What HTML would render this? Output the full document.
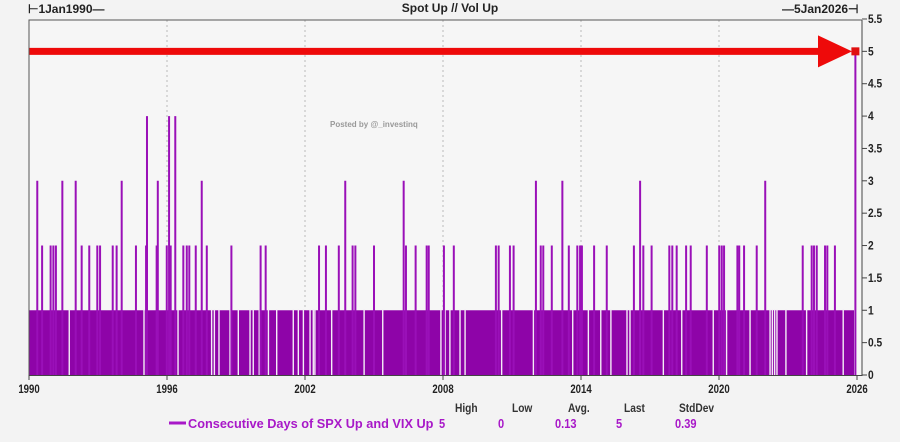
<!DOCTYPE html>
<html><head><meta charset="utf-8"><style>
html,body{margin:0;padding:0;background:#f3f3f3;}
svg{display:block;font-family:"Liberation Sans",sans-serif;}
</style></head><body>
<svg id="c" width="900" height="442" viewBox="0 0 900 442">
<rect x="0" y="0" width="900" height="442" fill="#f3f3f3"/>
<rect x="29" y="20" width="833" height="355" fill="#f6f6f6"/>
<g id="grid"></g>
<g id="marks"></g>
<text x="450" y="12" text-anchor="middle" font-size="12" font-weight="bold" fill="#222">Spot Up // Vol Up</text>
<text x="28" y="13" font-size="12" font-weight="bold" fill="#222">⊢1Jan1990—</text>
<text x="782" y="13" font-size="12" font-weight="bold" fill="#222">—5Jan2026⊣</text>
<text x="330" y="127" font-size="8" font-weight="bold" fill="#999">Posted by @_investinq</text>
<g id="axes"></g>
<g font-size="12" font-weight="bold">
<text x="455" y="412" fill="#333" transform="translate(455 412) scale(0.85 1) translate(-455 -412)">High</text>
<text x="512" y="412" fill="#333" transform="translate(512 412) scale(0.85 1) translate(-512 -412)">Low</text>
<text x="568" y="412" fill="#333" transform="translate(568 412) scale(0.85 1) translate(-568 -412)">Avg.</text>
<text x="624" y="412" fill="#333" transform="translate(624 412) scale(0.85 1) translate(-624 -412)">Last</text>
<text x="679" y="412" fill="#333" transform="translate(679 412) scale(0.85 1) translate(-679 -412)">StdDev</text>
<line x1="169" y1="423" x2="186" y2="423" stroke="#a818c8" stroke-width="3"/>
<text x="188" y="428" font-size="13" fill="#a818c8" transform="translate(188 428) scale(0.98 1) translate(-188 -428)">Consecutive Days of SPX Up and VIX Up</text>
<text x="439" y="428" font-size="13" fill="#a818c8" transform="translate(439 428) scale(0.85 1) translate(-439 -428)">5</text>
<text x="498" y="428" font-size="13" fill="#a818c8" transform="translate(498 428) scale(0.85 1) translate(-498 -428)">0</text>
<text x="555" y="428" font-size="13" fill="#a818c8" transform="translate(555 428) scale(0.85 1) translate(-555 -428)">0.13</text>
<text x="616" y="428" font-size="13" fill="#a818c8" transform="translate(616 428) scale(0.85 1) translate(-616 -428)">5</text>
<text x="675" y="428" font-size="13" fill="#a818c8" transform="translate(675 428) scale(0.85 1) translate(-675 -428)">0.39</text>
</g>
</svg>
<script>
const xTickLabels=["1990","1996","2002","2008","2014","2020","2026"];
const xTickYears=[1990,1996,2002,2008,2014,2020,2026];
const yTickLabels=["0","0.5","1","1.5","2","2.5","3","3.5","4","4.5","5","5.5"];
const yTickValues=[0,0.5,1,1.5,2,2.5,3,3.5,4,4.5,5,5.5];
const baseStart=1990.0, baseEnd=2025.87, baseValue=1;
const spikeYears=[1990.36,1991.45,1992.03,1994.03,1995.60,1997.51,1995.13,1996.09,1996.36,
1990.57,1990.94,1991.06,1991.17,1992.29,1992.62,1992.97,1993.09,1993.64,1993.81,1994.65,1995.09,1995.55,1995.99,1996.16,1996.71,1996.86,1996.97,1997.25,1997.73,1998.80,2000.07,2000.29,2002.61,
2003.75,2006.29,2012.04,2013.19,
2002.91,2003.47,2004.07,2004.19,2005.0,2006.39,2006.81,2007.29,2007.38,2008.04,2008.47,2010.30,2010.42,2010.91,2011.07,2012.25,2012.36,2012.73,2013.47,2013.84,2013.96,2014.04,2014.57,
2016.57,2022.01,
2015.12,2016.30,2016.71,2017.07,2017.84,2017.97,2018.16,2018.57,2018.77,2019.47,2020.01,2020.12,2020.22,2020.80,2020.88,2021.09,2021.64,2023.64,2024.03,2024.13,2024.25,2024.61,2024.71,2025.04,
2025.93];
const spikeValues=[3,3,3,3,3,3,4,4,4,
2,2,2,2,2,2,2,2,2,2,2,2,2,2,2,2,2,2,2,2,2,2,2,2,
3,3,3,3,
2,2,2,2,2,2,2,2,2,2,2,2,2,2,2,2,2,2,2,2,2,2,2,
3,3,
2,2,2,2,2,2,2,2,2,2,2,2,2,2,2,2,2,2,2,2,2,2,2,2,
5];
const gapYears=[1991.75,1995.0,1996.48,1997.94,1998.06,1998.26,1998.74,1999.10,1999.61,1999.75,2000.01,2000.41,2000.77,2001.49,2001.71,2002.22,2002.43,
2001.93,2002.36,2003.16,2004.57,2005.38,2007.91,2008.09,2008.30,2008.74,2008.96,2010.55,2011.93,2013.64,
2014.32,2014.86,2015.30,2016.0,2016.13,2017.58,2018.38,2019.75,2020.33,2021.35,2022.22,2022.32,2022.42,2022.52,2022.91,2023.81,2025.40];

const X0=29, PX_PER_YEAR=23, Y0=375, PX_PER_UNIT=64.73;
function xs(y){return X0+(y-1990)*PX_PER_YEAR;}
function ys(v){return Y0-v*PX_PER_UNIT;}
const NS="http://www.w3.org/2000/svg";
function mk(t,a,p){const e=document.createElementNS(NS,t);for(const k in a)e.setAttribute(k,a[k]);p.appendChild(e);return e;}
const grid=document.getElementById('grid'), marks=document.getElementById('marks'), axes=document.getElementById('axes');
for(let i=1;i<xTickYears.length-1;i++){
 const g=mk('line',{x1:xs(xTickYears[i]),x2:xs(xTickYears[i]),y1:20,y2:375,stroke:'#bbb','stroke-dasharray':'2,3'},grid);
 
 
}
const base=mk('rect',{x:xs(baseStart),y:ys(baseValue),width:xs(baseEnd)-xs(baseStart),height:ys(0)-ys(baseValue),fill:'#8e04a8'},marks);


gapYears.forEach(g=>{
 const l=mk('line',{x1:xs(g),x2:xs(g),y1:ys(baseValue)-1,y2:ys(0),stroke:'#f4eef6','stroke-width':1.4},marks);
 
 
});
spikeYears.forEach((s,i)=>{
 const l=mk('line',{x1:xs(s),x2:xs(s),y1:ys(spikeValues[i]),y2:ys(0),stroke:'#9a10b8','stroke-width':2},marks);
 
 
});
const lastV=spikeValues[spikeValues.length-1], ay=ys(lastV);
const ar=mk('line',{x1:29,x2:822,y1:ay,y2:ay,stroke:'#ee0a0a','stroke-width':7},marks);


const ah=mk('polygon',{points:`818,${ay-16} 852,${ay} 818,${ay+16}`,fill:'#ee0a0a'},marks);


const sq=mk('rect',{x:xs(2025.93)-4,y:ay-4,width:8,height:8,fill:'#e01010'},marks);


const fr=mk('path',{d:'M29,375 L29,20 L862,20',fill:'none',stroke:'#555','stroke-width':1},axes);


const ya=mk('line',{x1:862,x2:862,y1:20,y2:376,stroke:'#444','stroke-width':1},axes);


const xa=mk('line',{x1:29,x2:862,y1:375.5,y2:375.5,stroke:'#444','stroke-width':1},axes);


yTickValues.forEach((v,i)=>{
 const t=mk('line',{x1:862,x2:867,y1:ys(v),y2:ys(v),stroke:'#444'},axes);
 
 
 const tx=mk('text',{x:868,y:ys(v)+4,'font-size':12,'font-weight':'bold',fill:'#222',transform:`translate(868 ${ys(v)}) scale(0.85 1) translate(-868 ${-ys(v)})`},axes);
 tx.textContent=yTickLabels[i];
 
 
});
xTickYears.forEach((y,i)=>{
 const t=mk('line',{x1:xs(y),x2:xs(y),y1:375,y2:380,stroke:'#444'},axes);
 
 
 const tx=mk('text',{x:xs(y),y:393,'text-anchor':'middle','font-size':12,'font-weight':'bold',fill:'#222',transform:`translate(${xs(y)} 393) scale(0.8 1) translate(${-xs(y)} -393)`},axes);
 tx.textContent=xTickLabels[i];
 
 
});
</script>
</body></html>
